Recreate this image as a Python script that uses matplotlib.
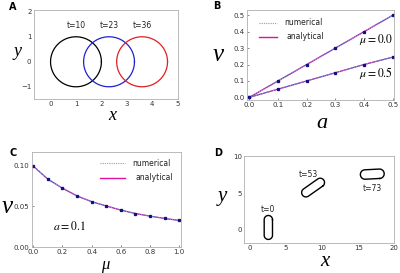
import numpy as np
import matplotlib
matplotlib.use("Agg")
import matplotlib.pyplot as plt

# ---- Data ----
# Panel A: circle snapshots
circle_times = ["t=10", "t=23", "t=36"]
circle_cx = [1.0, 2.3, 3.6]
circle_cy = [0.0, 0.0, 0.0]
circle_r = [1.0, 1.0, 1.0]
circle_colors = ["black", "#2020d0", "#e02020"]

# Panel B: v vs a
a_vals = [0.0, 0.1, 0.2, 0.3, 0.4, 0.5]
v_mu0 = [0.0, 0.1, 0.2, 0.3, 0.4, 0.5]
v_mu05 = [0.0, 0.05, 0.1, 0.15, 0.2, 0.245]

# Panel C: v vs mu
mu_vals = [0.0, 0.1, 0.2, 0.3, 0.4, 0.5, 0.6, 0.7, 0.8, 0.9, 1.0]
v_mu = [0.099, 0.083, 0.072, 0.0625, 0.0555, 0.0503, 0.0452, 0.041, 0.0378, 0.035, 0.0325]

# Panel D: capsule snapshots
cap_times = ["t=0", "t=53", "t=73"]
cap_cx = [2.55, 8.75, 16.95]
cap_cy = [0.25, 5.75, 7.6]
cap_len = [3.3, 3.6, 3.3]
cap_w = [1.15, 1.2, 1.3]
cap_angle = [90, 35, 3]
cap_label_x = [2.5, 8.1, 17.0]
cap_label_y = [2.7, 7.5, 5.6]

fig = plt.figure(figsize=(4.0, 2.73), dpi=100)
W, H = 400, 273

def add_ax(l, t, r, b):
    return fig.add_axes([l / W, 1 - b / H, (r - l) / W, (b - t) / H])

tick_kw = dict(labelsize=5, colors="#333333", length=1.5, width=0.4, pad=1.5)
spine_col = "#b0b0b0"
times = ["Liberation Serif", "DejaVu Serif"]

def style(ax):
    for s in ax.spines.values():
        s.set_color(spine_col)
        s.set_linewidth(0.6)
    ax.tick_params(**tick_kw)

# ---- Panel A ----
axA = add_ax(33.5, 10, 177.7, 99.3)
style(axA)
th = np.linspace(0, 2 * np.pi, 300)
for lab, cx, cy, r, c in zip(circle_times, circle_cx, circle_cy, circle_r, circle_colors):
    axA.plot(cx + r * np.cos(th), cy + r * np.sin(th), color=c, lw=0.9)
    axA.text(cx, cy + 1.45, lab, ha="center", va="center", fontsize=5.5, color="#222222")
axA.set_xlim(-0.67, 5.0)
axA.set_ylim(-1.5, 2.07)
axA.set_xticks([0, 1, 2, 3, 4, 5])
axA.set_yticks([-1, 0, 1, 2])
axA.tick_params(length=0)
fig.text(112 / W, 1 - 116 / H, "x", fontsize=13, family=times, style="italic", ha="center", va="center")
fig.text(17 / W, 1 - 52 / H, "y", fontsize=13, family=times, style="italic", ha="center", va="center")

# ---- Panel B ----
axB = add_ax(246.7, 10, 394, 100)
style(axB)
for vals in (v_mu0, v_mu05):
    axB.plot(a_vals, vals, color="#e0109a", lw=0.9)
    axB.plot(a_vals, vals, color="#4040c0", lw=0.5, alpha=0.6)
    axB.plot(a_vals, vals, color="#6fa8dc", lw=0.8, ls=(0, (1, 1)))
    axB.plot(a_vals, vals, ls="none", marker="s", ms=1.4, color="#101080")
axB.set_xlim(-0.009, 0.5045)
axB.set_ylim(-0.016, 0.532)
axB.set_xticks(a_vals)
axB.set_xticklabels(["0.0", "0.1", "0.2", "0.3", "0.4", "0.5"])
axB.set_yticks([0.0, 0.1, 0.2, 0.3, 0.4, 0.5])
axB.set_yticklabels(["0.0", "0.1", "0.2", "0.3", "0.4", "0.5"])
axB.tick_params(direction="in")
axB.plot([0.035, 0.095], [0.455, 0.455], color="#6fa8dc", lw=0.8, ls=(0, (1, 1)))
axB.plot([0.035, 0.095], [0.37, 0.37], color="#e0109a", lw=1.0)
axB.text(0.122, 0.455, "numerical", fontsize=5.5, va="center", color="#222222")
axB.text(0.13, 0.37, "analytical", fontsize=5.5, va="center", color="#222222")
axB.text(0.382, 0.355, r"$\mu = 0.0$", fontsize=8.5, va="center", math_fontfamily="stix")
axB.text(0.382, 0.15, r"$\mu = 0.5$", fontsize=8.5, va="center", math_fontfamily="stix")
fig.text(322 / W, 1 - 123 / H, "a", fontsize=16, family=times, style="italic", ha="center", va="center")
fig.text(218 / W, 1 - 55 / H, "v", fontsize=18, family=times, style="italic", ha="center", va="center")

# ---- Panel C ----
axC = add_ax(31.7, 151.7, 181, 247)
style(axC)
axC.plot(mu_vals, v_mu, color="#e0109a", lw=0.9)
axC.plot(mu_vals, v_mu, color="#4040c0", lw=0.5, alpha=0.6)
axC.plot(mu_vals, v_mu, color="#6fa8dc", lw=0.8, ls=(0, (1, 1)))
axC.plot(mu_vals, v_mu, ls="none", marker="s", ms=1.4, color="#101080")
axC.set_xlim(-0.011, 1.013)
axC.set_ylim(0.0, 0.1167)
axC.set_xticks([0.0, 0.2, 0.4, 0.6, 0.8, 1.0])
axC.set_xticklabels(["0.0", "0.2", "0.4", "0.6", "0.8", "1.0"])
axC.set_yticks([0.0, 0.05, 0.10])
axC.set_yticklabels(["0.00", "0.05", "0.10"])
axC.tick_params(direction="in")
axC.plot([0.46, 0.63], [0.1025, 0.1025], color="#6fa8dc", lw=0.8, ls=(0, (1, 1)))
axC.plot([0.46, 0.63], [0.0845, 0.0845], color="#e0109a", lw=1.0)
axC.text(0.68, 0.1025, "numerical", fontsize=5.5, va="center", color="#222222")
axC.text(0.7, 0.0845, "analytical", fontsize=5.5, va="center", color="#222222")
axC.text(0.137, 0.025, r"$a = 0.1$", fontsize=8.5, va="center", math_fontfamily="stix")
fig.text(7 / W, 1 - 207 / H, "v", fontsize=18, family=times, style="italic", ha="center", va="center")
fig.text(105 / W, 1 - 265 / H, "\u03bc", fontsize=12, family=times, style="italic", ha="center", va="center")

# ---- Panel D ----
axD = add_ax(244.3, 156, 394.3, 242.7)
style(axD)
for lab, cx, cy, L, w, ang, lx, ly in zip(cap_times, cap_cx, cap_cy, cap_len, cap_w, cap_angle,
                                         cap_label_x, cap_label_y):
    r = w / 2
    h = L / 2 - r
    t1 = np.linspace(-np.pi / 2, np.pi / 2, 60)
    t2 = np.linspace(np.pi / 2, 3 * np.pi / 2, 60)
    xs = np.concatenate([h + r * np.cos(t1), -h + r * np.cos(t2), [h]])
    ys = np.concatenate([r * np.sin(t1), r * np.sin(t2), [-r]])
    a = np.deg2rad(ang)
    X = cx + xs * np.cos(a) - ys * np.sin(a)
    Y = cy + xs * np.sin(a) + ys * np.cos(a)
    axD.plot(X, Y, color="black", lw=1.0)
    axD.text(lx, ly, lab, ha="center", va="center", fontsize=5.5, color="#222222")
axD.set_xlim(-0.78, 19.9)
axD.set_ylim(-1.85, 10.1)
axD.set_xticks([0, 5, 10, 15, 20])
axD.set_yticks([0, 5, 10])
axD.tick_params(length=0)
fig.text(325 / W, 1 - 261 / H, "x", fontsize=15, family=times, style="italic", ha="center", va="center")
fig.text(222 / W, 1 - 196 / H, "y", fontsize=15, family=times, style="italic", ha="center", va="center")

# panel letters
for lab, x, y in [("A", 13, 7), ("B", 217, 6), ("C", 13, 153), ("D", 218, 153)]:
    fig.text(x / W, 1 - y / H, lab, fontsize=7, fontweight="bold", ha="center", va="center")

fig.savefig("out.png", dpi=100)
